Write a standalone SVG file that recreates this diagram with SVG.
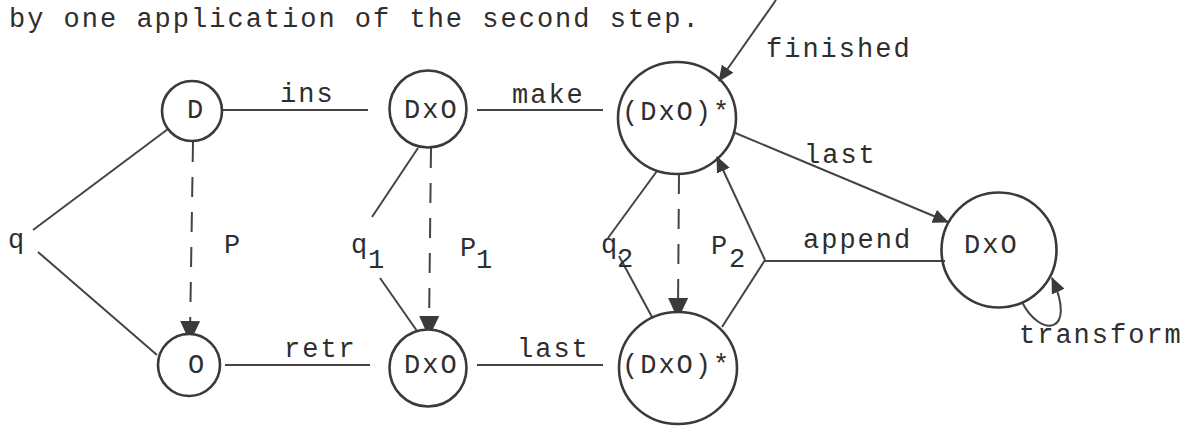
<svg xmlns="http://www.w3.org/2000/svg" width="1186" height="426" viewBox="0 0 1186 426">
  <style>
    .t { font-family: "Liberation Mono", "DejaVu Sans Mono", monospace; font-size: 27px; letter-spacing: 2px; fill: #2e2e2e; }
    .node { fill: none; stroke: #3a3a3a; stroke-width: 2.6; }
    .edge { fill: none; stroke: #444; stroke-width: 2; }
    .dash { fill: none; stroke: #444; stroke-width: 2; stroke-dasharray: 20 15; }
  </style>
  <defs>
    <marker id="arr" markerUnits="userSpaceOnUse" markerWidth="16" markerHeight="14" viewBox="0 0 16 14" refX="15" refY="7" orient="auto">
      <path d="M0,0 L16,7 L0,14 z" fill="#3a3a3a"/>
    </marker>
    <marker id="arrD" markerUnits="userSpaceOnUse" markerWidth="14" markerHeight="20" viewBox="0 0 14 20" refX="13" refY="10" orient="auto">
      <path d="M0,0 L13,6 L13,14 L0,20 z" fill="#3a3a3a"/>
    </marker>
  </defs>
  <rect width="1186" height="426" fill="#fff"/>

  <text class="t" x="9" y="27">by one application of the second step.</text>

  <!-- connectors -->
  <g id="connectors">
    <path class="edge" d="M223,110 H368"/>
    <path class="edge" d="M477,110 H603"/>
    <path class="edge" d="M225,365 H370"/>
    <path class="edge" d="M477,365 H603"/>
    <!-- q -->
    <path class="edge" d="M168,129 L33,230"/>
    <path class="edge" d="M38,252 L157,355"/>
    <!-- P -->
    <path class="dash" d="M193,142 L190,334" marker-end="url(#arrD)"/>
    <!-- q1 -->
    <path class="edge" d="M418,148 L372,217"/>
    <path class="edge" d="M380,278 L417,331"/>
    <!-- P1 -->
    <path class="dash" d="M431,148 L429,329" marker-end="url(#arrD)"/>
    <!-- q2 -->
    <path class="edge" d="M657,171 L608,238"/>
    <path class="edge" d="M619,256 L652,317"/>
    <!-- P2 -->
    <path class="dash" d="M679,174 L678,311" marker-end="url(#arrD)"/>
    <path class="edge" d="M765,260 L717,157" marker-end="url(#arr)"/>
    <path class="edge" d="M765,260 L722,327"/>
    <!-- append -->
    <path class="edge" d="M765,261 H945"/>
    <!-- finished -->
    <path class="edge" d="M776,0 L719,81" marker-end="url(#arr)"/>
    <!-- last (to DxO) -->
    <path class="edge" d="M733,132 L948,222" marker-end="url(#arr)"/>
    <!-- transform loop -->
    <path class="edge" d="M1022,302 C1040,338 1078,335 1052,278" marker-end="url(#arr)"/>
  </g>

  <g id="edge-labels">
    <text class="t" x="280" y="102">ins</text>
    <text class="t" x="512" y="103">make</text>
    <text class="t" x="284" y="357">retr</text>
    <text class="t" x="517" y="357">last</text>
    <text class="t" x="766" y="57">finished</text>
    <text class="t" x="804" y="163">last</text>
    <text class="t" x="803" y="248">append</text>
    <text class="t" x="1019" y="343">transform</text>
    <text class="t" x="8" y="248">q</text>
    <text class="t" x="224" y="253">P</text>
    <text class="t" x="351" y="253">q<tspan x="368" y="268">1</tspan></text>
    <text class="t" x="460" y="256">P<tspan x="476" y="268">1</tspan></text>
    <text class="t" x="601" y="253">q<tspan x="617" y="267">2</tspan></text>
    <text class="t" x="711" y="254">P<tspan x="729" y="267">2</tspan></text>
  </g>

  <!-- nodes -->
  <g id="n-D">
    <circle class="node" cx="192" cy="111" r="30"/>
    <text class="t" x="187" y="118">D</text>
  </g>
  <g id="n-O">
    <circle class="node" cx="189" cy="365" r="31"/>
    <text class="t" x="188" y="373">O</text>
  </g>
  <g id="n-DxO-1">
    <circle class="node" cx="428" cy="109" r="38.5"/>
    <text class="t" x="404" y="118">DxO</text>
  </g>
  <g id="n-DxO-2">
    <circle class="node" cx="428" cy="368" r="38.5"/>
    <text class="t" x="404" y="373">DxO</text>
  </g>
  <g id="n-DxOstar-1">
    <ellipse class="node" cx="677" cy="118" rx="59" ry="56"/>
    <text class="t" x="622" y="120">(DxO)*</text>
  </g>
  <g id="n-DxOstar-2">
    <ellipse class="node" cx="678" cy="368" rx="59" ry="56"/>
    <text class="t" x="622" y="373">(DxO)*</text>
  </g>
  <g id="n-DxO-3">
    <circle class="node" cx="999" cy="250" r="57.5"/>
    <text class="t" x="964" y="253">DxO</text>
  </g>
</svg>
